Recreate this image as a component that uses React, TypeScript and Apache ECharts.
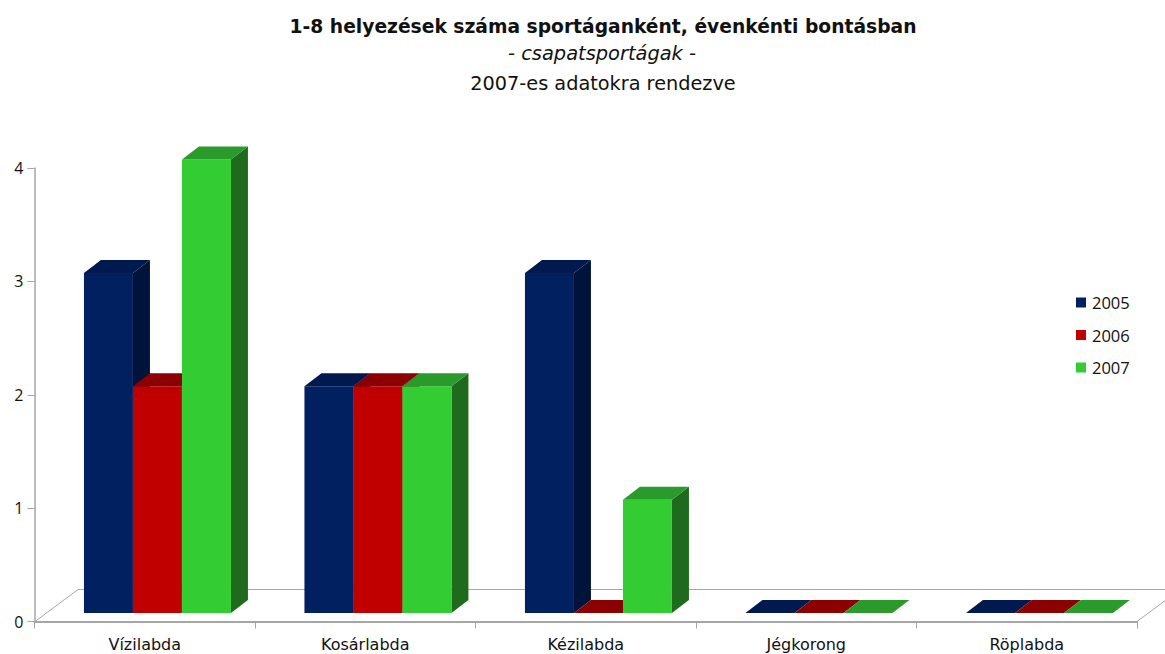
import React, { useEffect, useRef } from "react";
import * as echarts from "echarts";

const categories = ["Vízilabda", "Kosárlabda", "Kézilabda", "Jégkorong", "Röplabda"];
const years = ["2005", "2006", "2007"];
const values2005 = [3, 2, 3, 0, 0];
const values2006 = [2, 2, 0, 0, 0];
const values2007 = [4, 2, 1, 0, 0];
const allValues = [values2005, values2006, values2007];
const frontColors = ["#002060", "#C00000", "#33CC33"];
const topColors = ["#001A50", "#8B0000", "#2A9A2A"];
const sideColors = ["#00133A", "#600000", "#1E6B1E"];

const FONT = "'Open Sans', sans-serif";
const WIDE = "'DejaVu Sans', sans-serif";
const BAR_W = 49;
const DX = 17;
const DY = 13;
const SHIFT_X = 12.7;
const SHIFT_Y = 8.5;

function barRenderer(s: number) {
  return (_p: any, api: any) => {
    const [cx, baseY] = api.coord([api.value(0), 0]);
    const [, topY] = api.coord([api.value(0), api.value(1)]);
    const x0 = cx + SHIFT_X + (s - 1.5) * BAR_W;
    const x1 = x0 + BAR_W;
    const yb = baseY - SHIFT_Y;
    const yt = topY - SHIFT_Y;
    const children: any[] = [];
    if (yb - yt > 0) {
      children.push({
        type: "polygon",
        shape: { points: [[x1, yb], [x1 + DX, yb - DY], [x1 + DX, yt - DY], [x1, yt]] },
        style: { fill: sideColors[s] },
      });
      children.push({
        type: "rect",
        shape: { x: x0, y: yt, width: BAR_W, height: yb - yt },
        style: { fill: frontColors[s] },
      });
    }
    children.push({
      type: "polygon",
      shape: { points: [[x0, yt], [x1, yt], [x1 + DX, yt - DY], [x0 + DX, yt - DY]] },
      style: { fill: topColors[s] },
    });
    return { type: "group", children };
  };
}

export default function App() {
  const ref = useRef<HTMLDivElement>(null);
  useEffect(() => {
    const chart = echarts.init(ref.current!, undefined, { renderer: "svg" });
    const axisGrey = "#A6A6A6";
    chart.setOption({
      animation: false,
      backgroundColor: "#FFFFFF",
      title: [
        {
          text: "1-8 helyezések száma sportáganként, évenkénti bontásban",
          left: 598, top: 12, textAlign: "center",
          textStyle: { fontFamily: WIDE, fontSize: 18.7, fontWeight: "bold", color: "#111111" },
        },
        {
          text: "- csapatsportágak -",
          left: 597, top: 39, textAlign: "center",
          textStyle: { fontFamily: WIDE, fontSize: 19.4, fontWeight: "normal", fontStyle: "italic", color: "#111111" },
        },
        {
          text: "2007-es adatokra rendezve",
          left: 598, top: 69, textAlign: "center",
          textStyle: { fontFamily: WIDE, fontSize: 19.3, fontWeight: "normal", color: "#111111" },
        },
      ],
      legend: {
        orient: "vertical",
        left: 1071,
        top: 289,
        itemWidth: 10,
        itemHeight: 10,
        itemGap: 15.5,
        icon: "rect",
        data: years,
        textStyle: { fontFamily: FONT, fontSize: 16.5, color: "#111111", padding: [0, 0, 0, 1] },
      },
      grid: { left: 34.5, right: 28, top: 168, bottom: 32.5 },
      xAxis: {
        type: "category",
        data: categories,
        axisLine: { lineStyle: { color: axisGrey, width: 2 } },
        axisTick: { show: true, length: 7, lineStyle: { color: axisGrey } },
        axisLabel: { fontFamily: WIDE, fontSize: 16, color: "#111111", margin: 15 },
      },
      yAxis: {
        type: "value",
        min: 0,
        max: 4,
        interval: 1,
        splitLine: { show: false },
        axisLine: { show: true, lineStyle: { color: axisGrey, width: 1.5 } },
        axisTick: { show: true, length: 7, lineStyle: { color: axisGrey } },
        axisLabel: { fontFamily: FONT, fontSize: 16, color: "#111111", margin: 11 },
      },
      graphic: [
        { type: "line", z: 0, shape: { x1: 35, y1: 621.5, x2: 78, y2: 589.5 }, style: { stroke: axisGrey, lineWidth: 1 } },
        { type: "line", z: 0, shape: { x1: 78, y1: 589.5, x2: 1165, y2: 589.5 }, style: { stroke: axisGrey, lineWidth: 1 } },
        { type: "line", z: 0, shape: { x1: 1137, y1: 621.5, x2: 1165, y2: 600.7 }, style: { stroke: axisGrey, lineWidth: 1 } },
      ],
      series: years.map((y, s) => ({
        type: "custom",
        name: y,
        coordinateSystem: "cartesian2d",
        clip: false,
        itemStyle: { color: frontColors[s] },
        encode: { x: 0, y: 1 },
        data: allValues[s].map((v, i) => [i, v]),
        renderItem: barRenderer(s),
      })),
    });
    return () => chart.dispose();
  }, []);
  return <div ref={ref} style={{ position: "absolute", left: 0, top: 0, width: 1165, height: 654 }} />;
}
